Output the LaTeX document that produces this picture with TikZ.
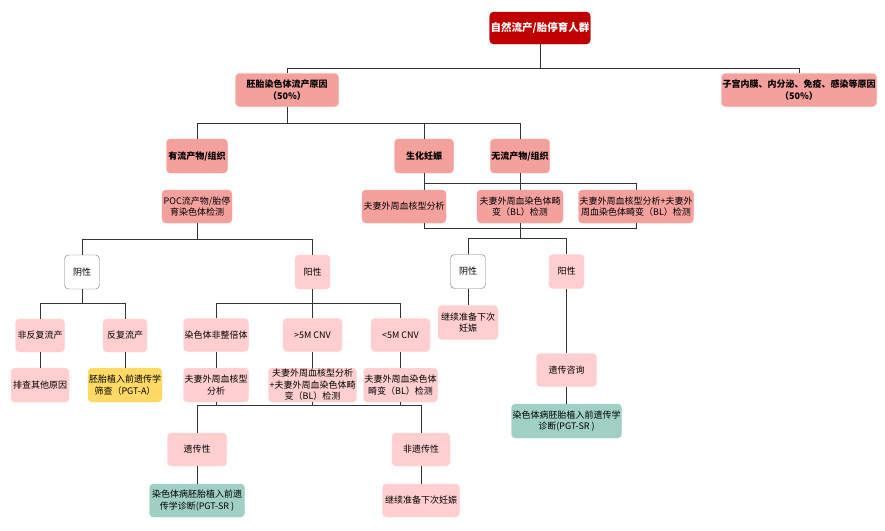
\documentclass[tikz,border=0pt]{standalone}
\usepackage{fontspec}
\setmainfont{Noto Sans CJK SC}
\usepackage{xcolor}
\usepackage{tikz}
\definecolor{rootred}{HTML}{C00000}
\definecolor{salmon}{HTML}{F4A19D}
\definecolor{lpink}{HTML}{FFCFCF}
\definecolor{gold}{HTML}{FFD966}
\definecolor{mint}{HTML}{A0CFC3}

\begin{document}
\begin{tikzpicture}[x=1pt,y=-1pt,font=\fontsize{9}{11.5}\selectfont,
 bx/.style={rounded corners=4pt,align=center,inner sep=1pt,minimum height=33pt},
 rt/.style={bx,fill=rootred,draw=rootred!85!black,text=white,font=\fontsize{10.5}{12}\selectfont\bfseries,minimum height=32pt},
 sa/.style={bx,fill=salmon,draw=salmon},
 hd/.style={sa,font=\fontsize{9}{12}\selectfont\bfseries},
 pk/.style={bx,fill=lpink,draw=lpink},
 wh/.style={bx,fill=white,draw=black!55},
 ye/.style={bx,fill=gold,draw=gold},
 te/.style={bx,fill=mint,draw=mint},
 d/.style={draw=black!80,line width=0.8pt}]
\useasboundingbox (0,0) rectangle (885,530);
\coordinate (b0) at (0,68);
\coordinate (b1) at (0,123);
\coordinate (b2) at (0,183);
\coordinate (b3) at (0,228);
\coordinate (b4) at (0,238);
\coordinate (b5) at (0,239);
\coordinate (b6) at (0,303);
\coordinate (b7) at (0,405);
\node[rt,minimum width=96pt] (root) at (540,28) {自然流产/胎停育人群};
\node[hd,minimum width=103pt] (emb) at (287,90) {胚胎染色体流产原因\\（50\%）};
\node[hd,minimum width=154pt] (ute) at (799,90) {子宫内膜、内分泌、免疫、感染等原因\\（50\%）};
\node[hd,minimum width=61pt,minimum height=34pt] (have) at (197,156) {有流产物/组织};
\node[hd,minimum width=59pt,minimum height=34pt] (bio) at (424,156) {生化妊娠};
\node[hd,minimum width=59pt,minimum height=34pt] (nopoc) at (520,156) {无流产物/组织};
\node[sa,minimum width=70pt] (poc) at (197,206.5) {POC流产物/胎停\\育染色体检测};
\node[sa,minimum width=84pt] (kary) at (404,206.5) {夫妻外周血核型分析};
\node[sa,minimum width=86pt] (bl) at (520,206.5) {夫妻外周血染色体畸\\变（BL）检测};
\node[sa,minimum width=114pt] (both) at (636,206.5) {夫妻外周血核型分析+夫妻外\\周血染色体畸变（BL）检测};
\node[wh,minimum width=35pt,minimum height=34pt] (negL) at (82,272) {阴性};
\node[pk,minimum width=35pt,minimum height=34pt] (posL) at (312.5,272) {阳性};
\node[wh,minimum width=35pt,minimum height=34pt] (negR) at (468,271.5) {阴性};
\node[pk,minimum width=35pt,minimum height=34pt] (posR) at (566.5,271.5) {阳性};
\node[pk,minimum width=60pt,minimum height=34pt] (cont1) at (468,322.5) {继续准备下次\\妊娠};
\node[pk,minimum width=60pt] (gc) at (566.5,370) {遗传咨询};
\node[te,minimum width=110pt,minimum height=34pt] (srR) at (566.5,421) {染色体病胚胎植入前遗传学\\诊断(PGT-SR )};
\node[pk,minimum width=49pt] (nrec) at (40,335.5) {非反复流产};
\node[pk,minimum width=44pt] (rec) at (125,335.5) {反复流产};
\node[pk,minimum width=58pt,minimum height=34pt] (other) at (40,385) {排查其他原因};
\node[ye,minimum width=73pt,minimum height=34pt] (pgta) at (125,385) {胚胎植入前遗传学\\筛查（PGT-A）};
\node[pk,minimum width=65pt] (aneu) at (216,335) {染色体非整倍体};
\node[pk,minimum width=59pt] (big) at (312.5,335) {>5M CNV};
\node[pk,minimum width=59pt] (small) at (400.5,335) {<5M CNV};
\node[pk,minimum width=64pt,minimum height=34pt] (kary2) at (216,385) {夫妻外周血核型\\分析};
\node[pk,minimum width=88pt,minimum height=34pt] (both2) at (312.5,385) {夫妻外周血核型分析\\+夫妻外周血染色体畸\\变（BL）检测};
\node[pk,minimum width=74pt,minimum height=34pt] (bl2) at (400.5,385) {夫妻外周血染色体\\畸变（BL）检测};
\node[pk,minimum width=59pt] (her) at (197,449.5) {遗传性};
\node[pk,minimum width=58pt] (nonher) at (421,449.5) {非遗传性};
\node[te,minimum width=95pt] (srL) at (197,500.5) {染色体病胚胎植入前遗\\传学诊断(PGT-SR )};
\node[pk,minimum width=77pt] (cont2) at (421,500.5) {继续准备下次妊娠};
\draw[d] (root.south) -- (root.south |- b0);
\draw[d] (emb.north) |- (b0 -| ute.north) -- (ute.north);
\draw[d] (emb.south) -- (emb.south |- b1);
\draw[d] (have.north) |- (b1 -| nopoc.north) -- (nopoc.north);
\draw[d] (bio.north) -- (bio.north |- b1);
\draw[d] (bio.south) -- (bio.south |- kary.north);
\draw[d] (nopoc.south) -- (bl.north);
\draw[d] (bio.south |- b2) -| (both.north);
\draw[d] (bio.south |- kary.south) |- (b3 -| both.south) -- (both.south);
\draw[d] (bl.south) -- (bl.south |- b4);
\draw[d] (negR.north) |- (b4 -| posR.north) -- (posR.north);
\draw[d] (negR) -- (cont1);
\draw[d] (posR) -- (gc);
\draw[d] (gc) -- (srR);
\draw[d] (poc.south) -- (poc.south |- b5);
\draw[d] (negL.north) |- (b5 -| posL.north) -- (posL.north);
\draw[d] (negL.south) -- (negL.south |- b6);
\draw[d] (nrec.north) |- (b6 -| rec.north) -- (rec.north);
\draw[d] (posL.south) -- (posL.south |- b6);
\draw[d] (aneu.north) |- (b6 -| small.north) -- (small.north);
\draw[d] (big.north) -- (big.north |- b6);
\draw[d] (nrec) -- (other);
\draw[d] (rec) -- (pgta);
\draw[d] (aneu) -- (kary2);
\draw[d] (big) -- (both2);
\draw[d] (small) -- (bl2);
\draw[d] (kary2.south) -- (kary2.south |- b7);
\draw[d] (both2.south) -- (both2.south |- b7);
\draw[d] (bl2.south) -- (bl2.south |- b7);
\draw[d] (her.north) |- (b7 -| nonher.north) -- (nonher.north);
\draw[d] (her) -- (srL);
\draw[d] (nonher) -- (cont2);
\end{tikzpicture}
\end{document}
